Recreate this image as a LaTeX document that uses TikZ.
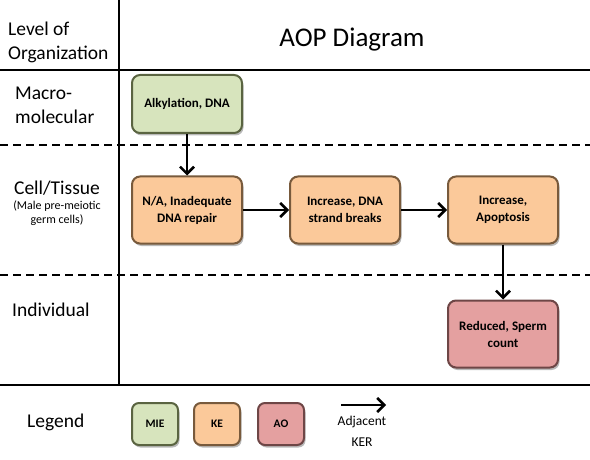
\documentclass[tikz,border=0pt]{standalone}
\usepackage{fontspec}
\setmainfont{Carlito}
\usepackage{tikz}
\usetikzlibrary{arrows.meta,positioning,shadows}
\usepackage{xcolor}
\definecolor{miefill}{RGB}{215,228,189}
\definecolor{miedraw}{RGB}{90,100,65}
\definecolor{kefill}{RGB}{251,201,154}
\definecolor{kedraw}{RGB}{120,90,60}
\definecolor{aofill}{RGB}{228,160,160}
\definecolor{aodraw}{RGB}{110,70,70}
\newcommand{\lvlfont}{\fontsize{19.5}{24}\selectfont}
\newcommand{\boxfont}{\fontsize{13}{17}\selectfont\bfseries}
\tikzset{
  evbox/.style={rectangle, rounded corners=8pt, line width=2pt,
                minimum width=110pt, minimum height=67pt,
                align=center, font=\boxfont, inner sep=2pt,
                drop shadow={shadow xshift=1.5pt, shadow yshift=-2.5pt, opacity=0.55}},
  mie/.style={evbox, fill=miefill, draw=miedraw},
  ke/.style={evbox, fill=kefill, draw=kedraw},
  ao/.style={evbox, fill=aofill, draw=aodraw},
  legbox/.style={minimum width=46pt, minimum height=42pt, rounded corners=7pt,
                 font=\fontsize{11.5}{13}\selectfont\bfseries},
  lvl/.style={font=\lvlfont, align=left, anchor=west, inner sep=0pt},
  sep/.style={line width=2.8pt, black},
  dsep/.style={line width=2pt, black, dash pattern=on 8pt off 5pt},
  arr/.style={-{Straight Barb[length=7pt,width=14pt,line width=2.5pt]}, line width=2.5pt, black},
}
\begin{document}
\begin{tikzpicture}[x=1pt, y=-1pt, node distance=46pt]
    \useasboundingbox (0,0) rectangle (590,460);
    % grid of levels
    \draw[sep] (0,70) -- (590,70);
    \draw[sep] (0,385) -- (590,385);
    \draw[sep] (119,0) -- (119,385);
    \draw[dsep] (0,145) -- (590,145);
    \draw[dsep] (0,275) -- (590,275);

    % level labels
    \node[lvl] (l0) at (8,42) {Level of\\Organization};
    \node[lvl] (l1) at (15,105) {Macro-\\molecular};
    \node[font=\lvlfont, inner sep=0pt] (l2) at (57,188) {Cell/Tissue};
    \node[font=\fontsize{12}{14.5}\selectfont, align=center, below=5pt of l2, inner sep=0pt] (l2s)
      {(Male pre-meiotic\\germ cells)};
    \node[lvl] (l3) at (12,310) {Individual};
    \node[lvl] (l4) at (27,422) {Legend};
    \node[font=\fontsize{27}{30}\selectfont] (title) at (352,40) {AOP Diagram};

    % events
    \node[mie, minimum height=58pt] (e1) at (187,104) {Alkylation, DNA};
    \node[ke] (e2) at (187,210) {N/A, Inadequate\\DNA repair};
    \node[ke, right=of e2] (e3) {Increase, DNA\\strand breaks};
    \node[ke, right=of e3] (e4) {Increase,\\Apoptosis};
    \node[ao, below=55pt of e4] (e5) {Reduced, Sperm\\count};
    \draw[arr] (e1) -- (e2); \draw[arr] (e2) -- (e3);
    \draw[arr] (e3) -- (e4); \draw[arr] (e4) -- (e5);

    % legend
    \node[mie, legbox] (lg1) at (155,424) {MIE};
    \node[ke, legbox, right=14pt of lg1] (lg2) {KE};
    \node[ao, legbox, right=16pt of lg2] (lg3) {AO};
    \coordinate (ka) at (341,405);
    \coordinate (kb) at (386,405);
    \draw[arr] (ka) -- (kb);
    \node[font=\fontsize{13.5}{21}\selectfont, align=center] (ker) at (362,431) {Adjacent\\KER};
\end{tikzpicture}
\end{document}
